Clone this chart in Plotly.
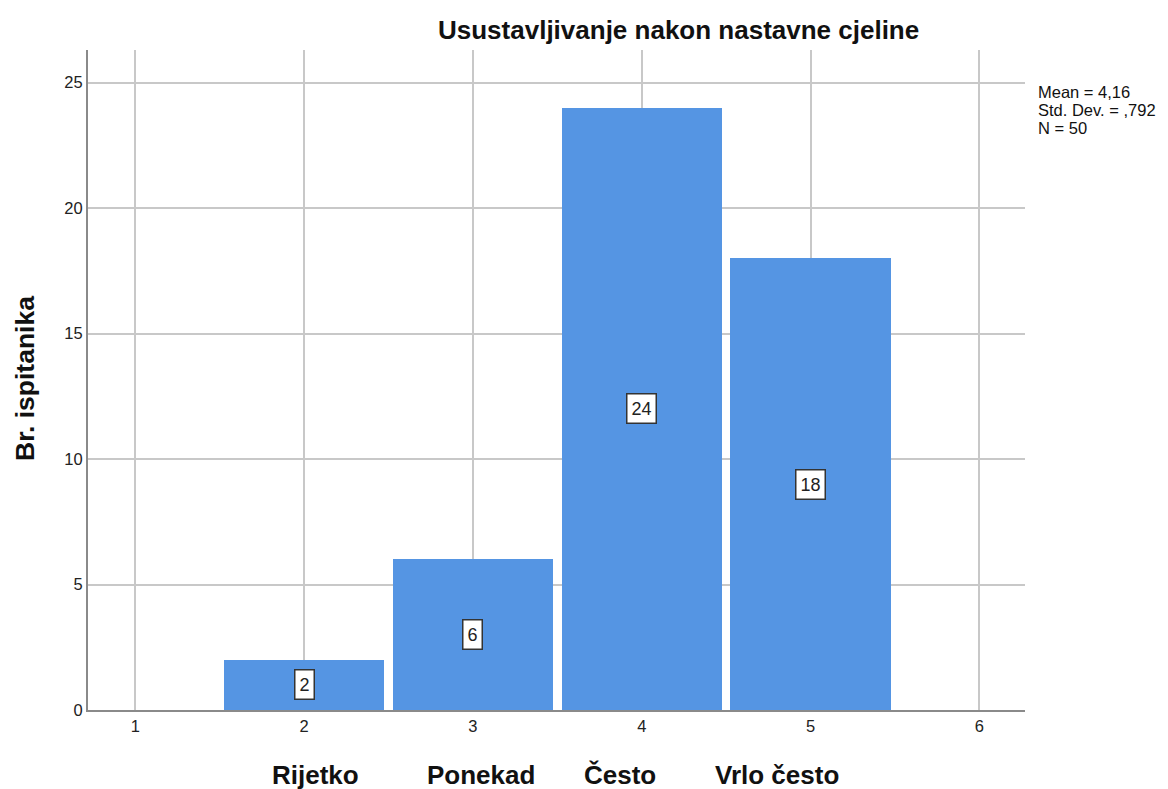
import plotly.graph_objects as go

values = [1, 2, 3, 4, 5]
counts = [0, 2, 6, 24, 18]
category_names = ["Rijetko", "Ponekad", "Često", "Vrlo često"]
category_x = [2.07, 3.05, 3.87, 4.8]
x_ticks = [1, 2, 3, 4, 5, 6]
y_ticks = [0, 5, 10, 15, 20, 25]
stats_lines = ["Mean = 4,16", "Std. Dev. = ,792", "N = 50"]
title = "Usustavljivanje nakon nastavne cjeline"
y_title = "Br. ispitanika"

bar_color = "#5595E3"
FONT = "Arial, Liberation Sans, sans-serif"

# page body has an 8px margin: figure is drawn 8px in from the window corner
PW, PH = 937, 660  # plot area size in px

fig = go.Figure()
fig.add_trace(go.Bar(
    x=values, y=counts, width=0.95,
    marker=dict(color=bar_color, line=dict(width=0)),
    hoverinfo="x+y",
))

annotations = []
for v, c in zip(values, counts):
    if c > 0:
        annotations.append(dict(
            x=v, y=c / 2, xref="x", yref="y", text=str(c), showarrow=False,
            font=dict(family=FONT, size=18, color="#222"),
            bgcolor="white", bordercolor="#333", borderwidth=1.5, borderpad=4,
        ))
for name, cx in zip(category_names, category_x):
    annotations.append(dict(
        x=cx, y=-65 / PH, xref="x", yref="paper", text="<b>" + name + "</b>",
        showarrow=False, yanchor="middle",
        font=dict(family=FONT, size=26, color="#111"),
    ))
for i, line in enumerate(stats_lines):
    annotations.append(dict(
        x=(1036 - 88) / PW, y=1 - (92 + 18 * i - 50) / PH, xref="paper", yref="paper",
        text=line, showarrow=False, xanchor="left", yanchor="middle",
        align="left", font=dict(family=FONT, size=16.5, color="#111"),
    ))
annotations.append(dict(
    x=(678 - 88) / PW, y=1 + (50 - 30) / PH, xref="paper", yref="paper",
    text="<b>" + title + "</b>", showarrow=False, xanchor="center", yanchor="middle",
    font=dict(family=FONT, size=26, color="#111"),
))
annotations.append(dict(
    x=(25 - 88) / PW, y=1 - (379 - 50) / PH, xref="paper", yref="paper",
    text="<b>" + y_title + "</b>", showarrow=False, textangle=-90,
    xanchor="center", yanchor="middle",
    font=dict(family=FONT, size=26.5, color="#111"),
))

fig.update_layout(
    width=1160, height=781,
    margin=dict(l=80, r=143, t=42, b=79),
    plot_bgcolor="white", paper_bgcolor="white",
    showlegend=False,
    bargap=0,
    annotations=annotations,
    xaxis=dict(
        range=[0.72, 6.27], tickvals=x_ticks, ticktext=[str(t) for t in x_ticks],
        showgrid=True, gridcolor="#c8c8c8", gridwidth=1.5,
        showline=True, linecolor="#8a8a8a", linewidth=2,
        ticks="", zeroline=False,
        tickfont=dict(family=FONT, size=16.5, color="#222"),
    ),
    yaxis=dict(
        range=[0, 26.3], tickvals=y_ticks, ticktext=[str(t) for t in y_ticks],
        showgrid=True, gridcolor="#c8c8c8", gridwidth=1.5,
        showline=True, linecolor="#8a8a8a", linewidth=2,
        ticks="", zeroline=False,
        tickfont=dict(family=FONT, size=16.5, color="#222"),
    ),
)

fig.write_html("out.html")
